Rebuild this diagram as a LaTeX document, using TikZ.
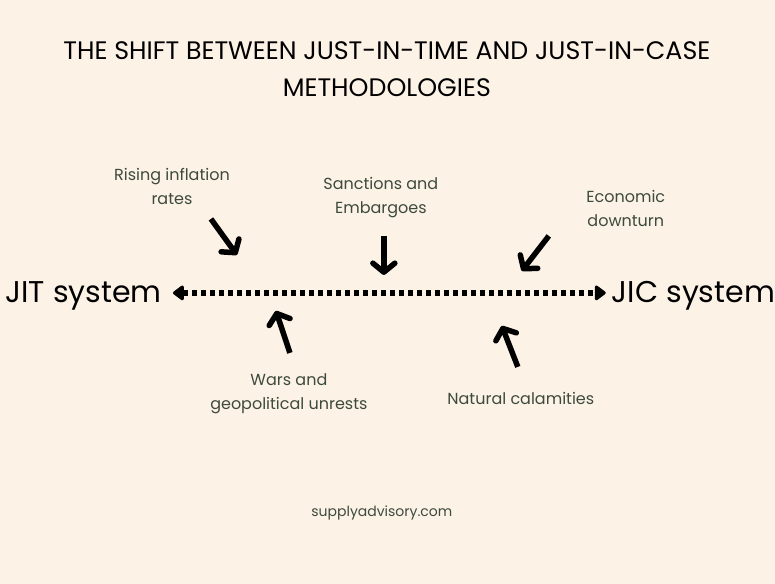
\documentclass[tikz,border=0pt]{standalone}
\usepackage{fontspec}
\setmainfont{Poppins}
\usepackage{tikz}
\usetikzlibrary{arrows.meta}

\definecolor{paper}{HTML}{FDF2E6}
\definecolor{factorgray}{HTML}{3D4A3C}

\begin{document}
\begin{tikzpicture}[x=1pt,y=-1pt,
		factor/.style={align=center,text=factorgray,inner sep=0pt,font=\fontsize{16}{24}\selectfont},
		system/.style={inner sep=0pt,font=\fontsize{30}{34}\selectfont},
		push/.style={line width=5.5pt,-{Straight Barb[length=9pt,width=22pt,round]}}]
		
		\fill[paper] (0,0) rectangle (775,584) ;
		
		\node[align=center,inner sep=0pt,font=\fontsize{25.3}{37}\selectfont] (title) at (387,69) {THE SHIFT BETWEEN JUST-IN-TIME AND JUST-IN-CASE\\METHODOLOGIES} ;
		
		\node[system,anchor=base east] (jit) at (162,303) {JIT system} ;
		\node[system,anchor=base west] (jic) at (612,303) {JIC system} ;
		
		\node[factor] (inflation) at (172,187) {Rising inflation\\rates} ;
		\node[factor] (sanctions) at (381,198) {Sanctions and\\Embargoes} ;
		\node[factor] (downturn) at (626,209) {Economic\\downturn} ;
		\node[factor] (wars) at (289,394) {Wars and\\geopolitical unrests} ;
		\node[factor] (calamities) at (521,399) {Natural calamities} ;
		\node[factor,font=\fontsize{14}{18}\selectfont] (site) at (382,513) {supplyadvisory.com} ;
		
		\coordinate (inflation_t) at (211,219) ;
		\coordinate (inflation_p) at (237,255) ;
		\coordinate (sanctions_t) at (384,236) ;
		\coordinate (sanctions_p) at (384,275) ;
		\coordinate (downturn_t) at (549,236) ;
		\coordinate (downturn_p) at (522,271) ;
		\coordinate (wars_t) at (290,353) ;
		\coordinate (wars_p) at (276,311) ;
		\coordinate (calamities_t) at (518,367) ;
		\coordinate (calamities_p) at (502,326) ;
		
		\draw[line width=5.5pt,dash pattern=on 5pt off 4pt,
			{Triangle[round,length=12pt,width=17pt]}-{Triangle[round,length=12pt,width=17pt]}]
			([xshift=11pt,yshift=10pt]jit.base east) -- ([xshift=-6pt,yshift=10pt]jic.base west) ;
		
		\draw[push] (inflation_t) -- (inflation_p) ;
		\draw[push] (sanctions_t) -- (sanctions_p) ;
		\draw[push] (downturn_t) -- (downturn_p) ;
		\draw[push] (wars_t) -- (wars_p) ;
		\draw[push] (calamities_t) -- (calamities_p) ;
	\end{tikzpicture}
\end{document}
